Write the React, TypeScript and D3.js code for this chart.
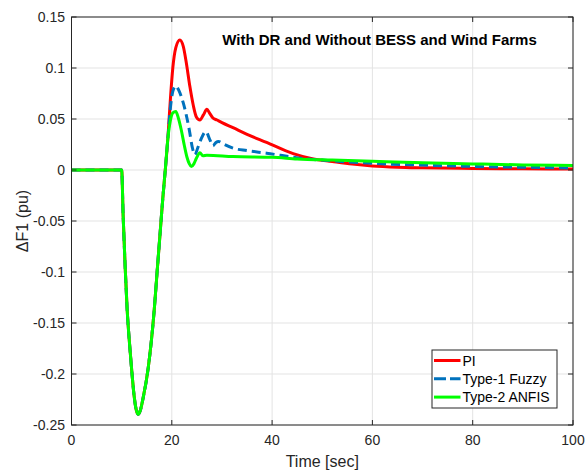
import React from "react";
import * as d3 from "d3";

// ---- data ----
const commonTime = [0, 10, 10.3, 10.7, 11.1, 11.6, 12.0, 12.5, 12.9, 13.3, 13.7, 14.3, 15.3, 16.5, 17.1, 17.7, 18.2, 18.7, 19.2];
const commonValues = [0, 0, -0.045, -0.095, -0.137, -0.172, -0.196, -0.222, -0.235, -0.2395, -0.236, -0.223, -0.194, -0.137, -0.098, -0.06, -0.028, 0, 0.03];

const piTime = [19.7, 20.2, 20.8, 21.6, 22.3, 22.9, 23.6, 24.3, 24.9, 25.6, 26.3, 27.0, 27.5, 28.2, 29, 30, 32.2, 35, 38.9, 44.2, 48, 52, 56, 60, 65, 70, 80, 90, 100];
const piValues = [0.068, 0.1, 0.12, 0.1275, 0.121, 0.105, 0.082, 0.063, 0.052, 0.049, 0.054, 0.0596, 0.056, 0.051, 0.049, 0.0465, 0.0415, 0.035, 0.027, 0.016, 0.011, 0.0083, 0.0058, 0.004, 0.0028, 0.0022, 0.0015, 0.0012, 0.001];

const fuzzyTime = [19.7, 20.2, 20.8, 21.4, 22.3, 23.5, 24.1, 24.6, 25.2, 25.9, 26.8, 27.6, 28.2, 28.8, 29.3, 30.5, 32.2, 35, 38.9, 45.5, 52, 60, 70, 80, 90, 100];
const fuzzyValues = [0.06, 0.077, 0.0825, 0.078, 0.0655, 0.039, 0.022, 0.015, 0.022, 0.031, 0.0377, 0.0296, 0.0237, 0.027, 0.028, 0.025, 0.0214, 0.019, 0.0165, 0.0116, 0.009, 0.0065, 0.0048, 0.0035, 0.0027, 0.002];

const anfisTime = [19.7, 20.2, 20.8, 21.3, 21.9, 22.5, 23.0, 23.5, 23.9, 24.4, 24.9, 25.6, 26.2, 27, 32.2, 40, 45, 52, 60, 70, 80, 90, 100];
const anfisValues = [0.048, 0.056, 0.0573, 0.051, 0.039, 0.024, 0.013, 0.006, 0.0034, 0.006, 0.0115, 0.017, 0.0139, 0.0145, 0.0132, 0.0125, 0.0109, 0.0097, 0.0085, 0.007, 0.006, 0.005, 0.0044];

const seriesNames = ["PI", "Type-1 Fuzzy", "Type-2 ANFIS"];
const seriesColors = ["#ff0000", "#0072bd", "#00ff00"];
const xTicks = [0, 20, 40, 60, 80, 100];
const yTicks = [-0.25, -0.2, -0.15, -0.1, -0.05, 0, 0.05, 0.1, 0.15];
const yTickLabels = ["-0.25", "-0.2", "-0.15", "-0.1", "-0.05", "0", "0.05", "0.1", "0.15"];
const titleText = "With DR and Without BESS and Wind Farms";
const xLabel = "Time [sec]";
const yLabel = "\u0394F1 (pu)";

export default function App() {
  const W = 588, H = 470;
  const left = 71.5, right = 573, top = 17, bottom = 425;
  const x = d3.scaleLinear().domain([0, 100]).range([left, right]);
  const y = d3.scaleLinear().domain([-0.25, 0.15]).range([bottom, top]);
  const line = d3
    .line<[number, number]>()
    .x((d) => x(d[0]))
    .y((d) => y(d[1]))
    .curve(d3.curveMonotoneX);

  const build = (t: number[], v: number[]): [number, number][] => {
    const pts: [number, number][] = commonTime.map((tt, i) => [tt, commonValues[i]]);
    t.forEach((tt, i) => pts.push([tt, v[i]]));
    return pts;
  };
  const series = [build(piTime, piValues), build(fuzzyTime, fuzzyValues), build(anfisTime, anfisValues)];
  const dashes = [undefined, "9,5", undefined];
  const axisColor = "#262626";
  const font = "'Liberation Sans', Arial, Helvetica, sans-serif";
  const tickLen = 5;

  const legX = 432, legY = 350, legW = 125, legH = 58;

  return (
    <svg width={W} height={H} style={{ position: "absolute", left: 0, top: 0, background: "#fff" }} fontFamily={font}>
      <rect x={0} y={0} width={W} height={H} fill="#fff" />
      {/* grid */}
      {xTicks.map((t) => (
        <line key={"gx" + t} x1={x(t)} x2={x(t)} y1={top} y2={bottom} stroke="#e3e3e3" strokeWidth={1} />
      ))}
      {yTicks.map((t) => (
        <line key={"gy" + t} x1={left} x2={right} y1={y(t)} y2={y(t)} stroke="#e3e3e3" strokeWidth={1} />
      ))}
      <defs>
        <clipPath id="plotclip">
          <rect x={left} y={top} width={right - left} height={bottom - top} />
        </clipPath>
      </defs>
      <g clipPath="url(#plotclip)">
        {series.map((s, i) => (
          <path
            key={"s" + i}
            d={line(s) || ""}
            fill="none"
            stroke={seriesColors[i]}
            strokeWidth={3}
            strokeDasharray={dashes[i]}
            strokeLinejoin="round"
          />
        ))}
      </g>
      {/* axes box */}
      <rect x={left} y={top} width={right - left} height={bottom - top} fill="none" stroke={axisColor} strokeWidth={1} />
      {xTicks.map((t) => (
        <g key={"tx" + t}>
          <line x1={x(t)} x2={x(t)} y1={bottom} y2={bottom - tickLen} stroke={axisColor} />
          <line x1={x(t)} x2={x(t)} y1={top} y2={top + tickLen} stroke={axisColor} />
          <text x={x(t)} y={445} textAnchor="middle" fontSize={14} fill={axisColor}>
            {t}
          </text>
        </g>
      ))}
      {yTicks.map((t, i) => (
        <g key={"ty" + t}>
          <line x1={left} x2={left + tickLen} y1={y(t)} y2={y(t)} stroke={axisColor} />
          <line x1={right} x2={right - tickLen} y1={y(t)} y2={y(t)} stroke={axisColor} />
          <text x={65} y={y(t) + 5} textAnchor="end" fontSize={14} fill={axisColor}>
            {yTickLabels[i]}
          </text>
        </g>
      ))}
      <text x={(left + right) / 2} y={467} textAnchor="middle" fontSize={16} fill={axisColor}>
        {xLabel}
      </text>
      <text
        transform={`translate(28, ${(top + bottom) / 2}) rotate(-90)`}
        textAnchor="middle"
        fontSize={16}
        fill={axisColor}
      >
        {yLabel}
      </text>
      <text x={379.5} y={44.5} textAnchor="middle" fontSize={15} fontWeight="bold" fill="#000">
        {titleText}
      </text>
      {/* legend */}
      <rect x={legX} y={legY} width={legW} height={legH} fill="#fff" stroke={axisColor} strokeWidth={1} />
      {seriesNames.map((n, i) => {
        const ly = 360.5 + i * 18.3;
        return (
          <g key={"l" + i}>
            <line x1={434} x2={460.5} y1={ly} y2={ly} stroke={seriesColors[i]} strokeWidth={3} strokeDasharray={dashes[i] ? "12,4" : undefined} />
            <text x={462.5} y={ly + 5} fontSize={14} fill="#000">
              {n}
            </text>
          </g>
        );
      })}
    </svg>
  );
}
